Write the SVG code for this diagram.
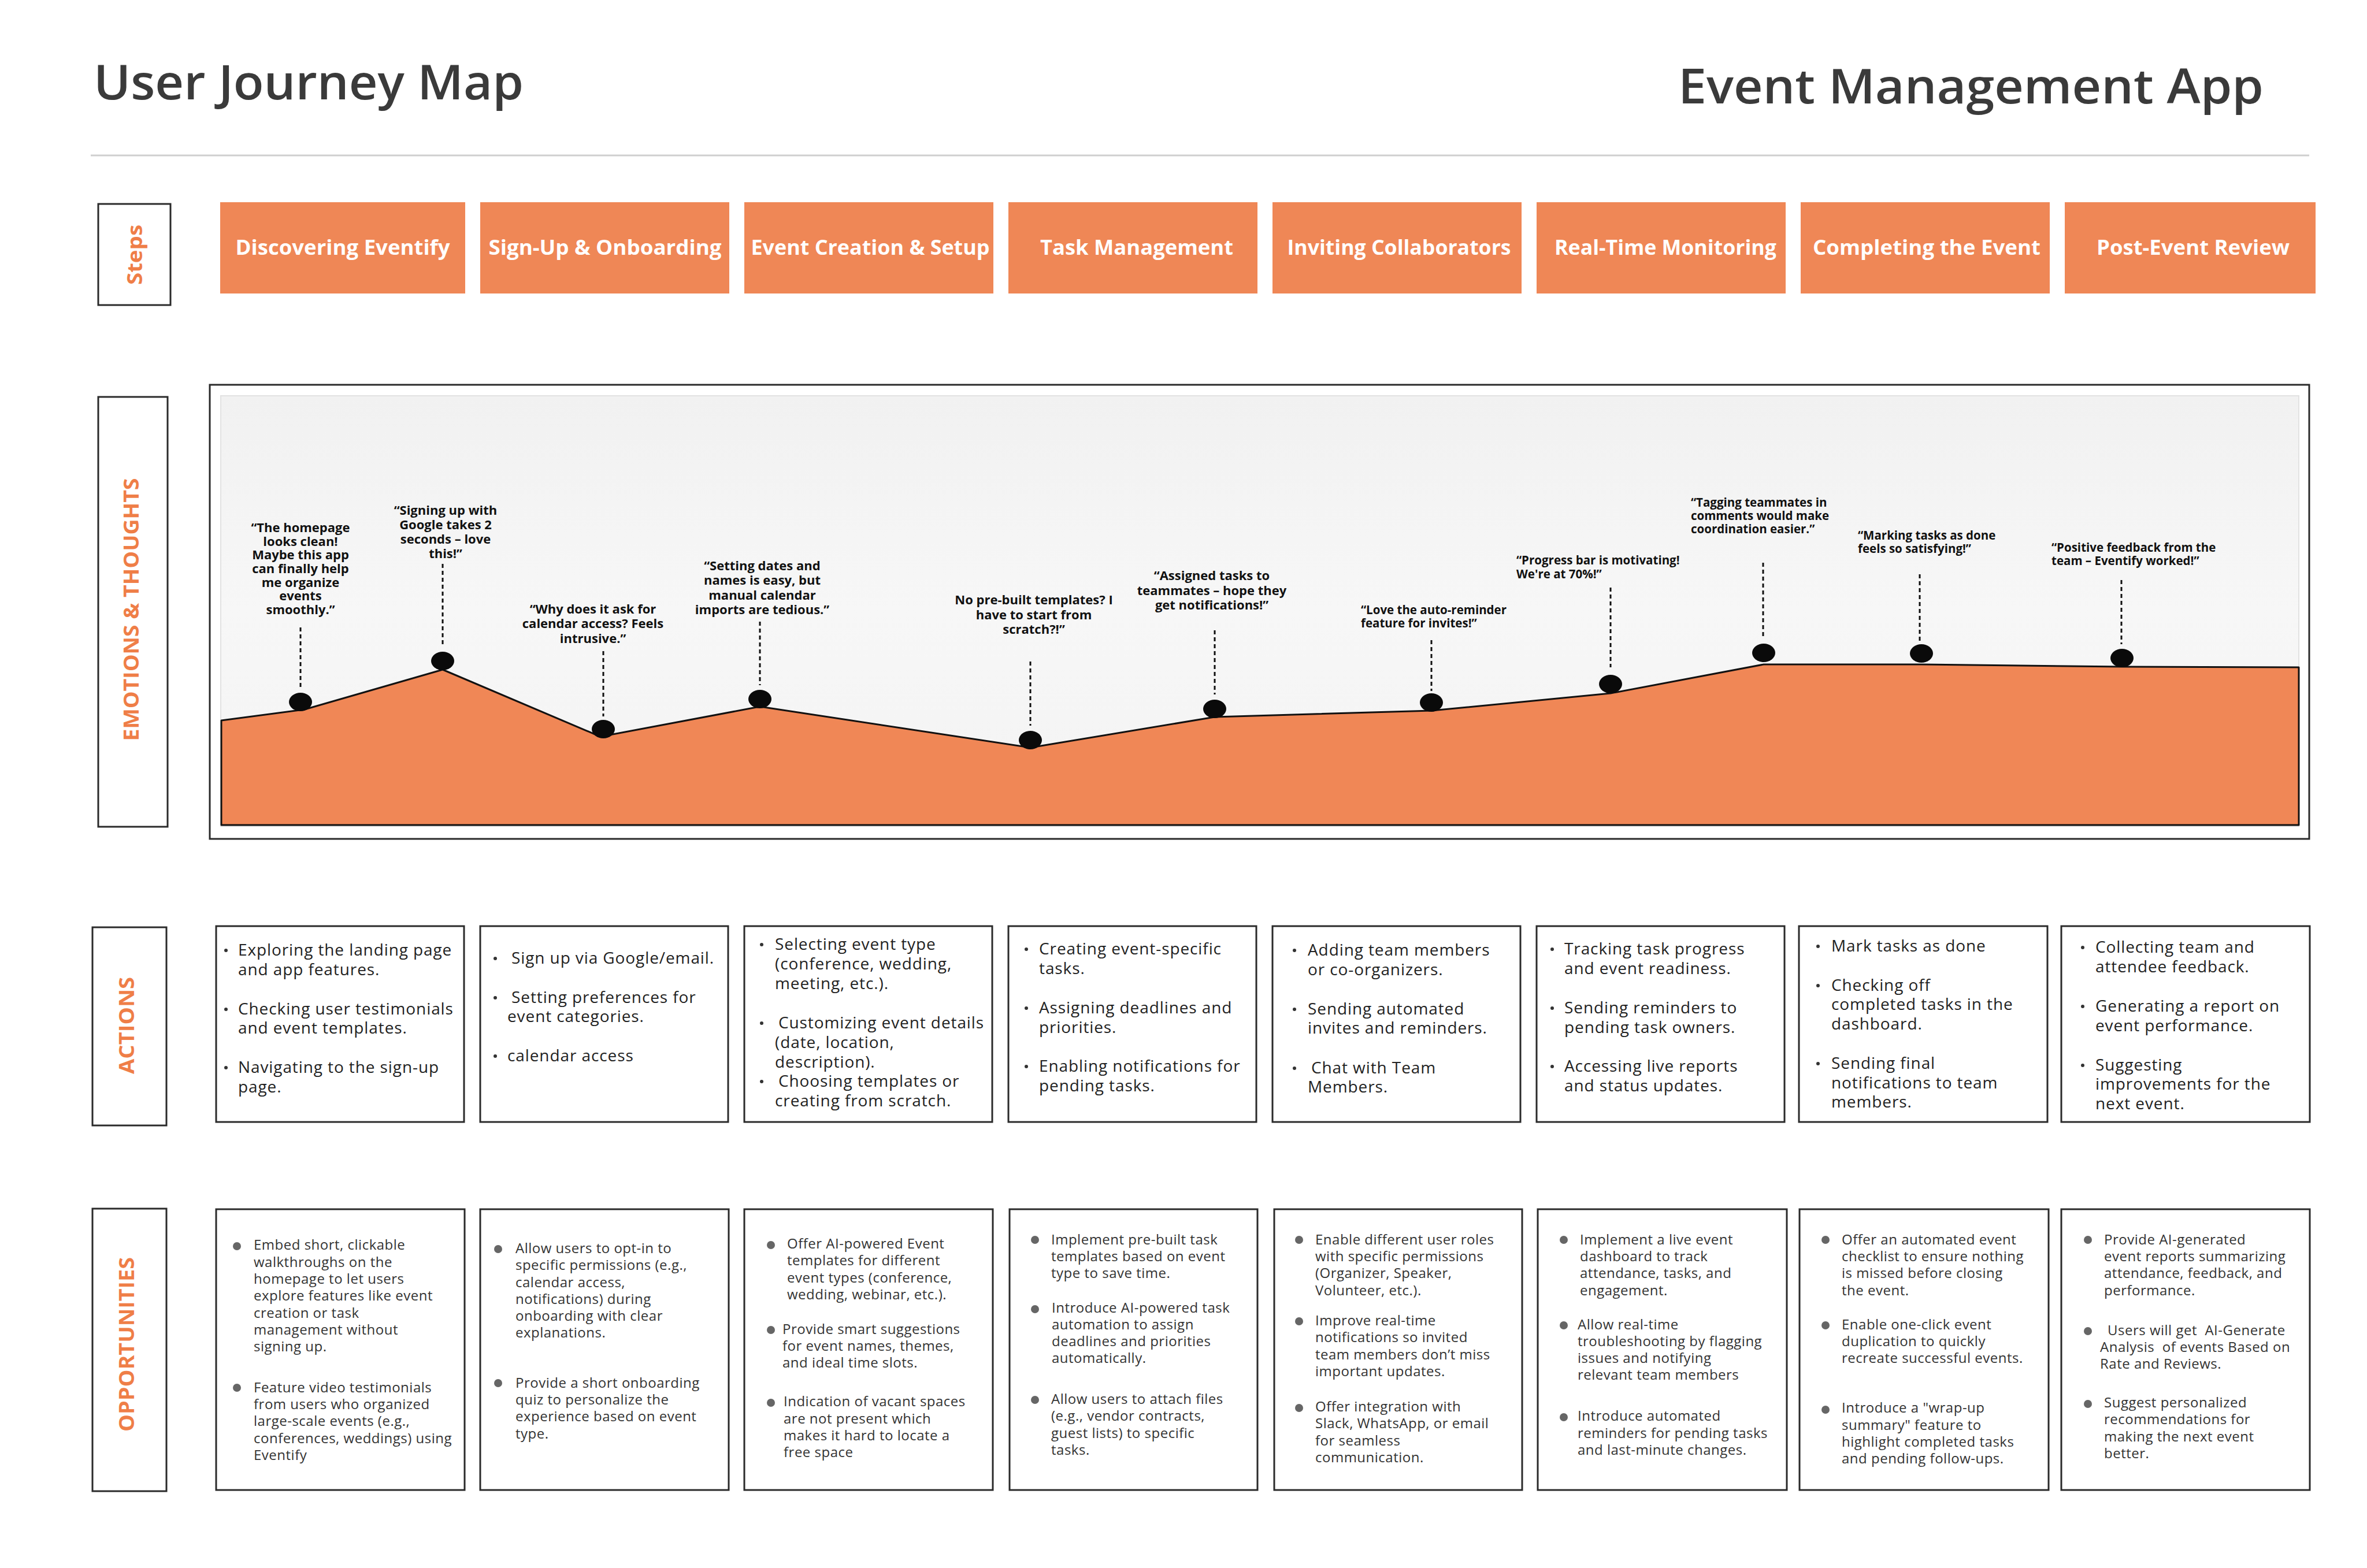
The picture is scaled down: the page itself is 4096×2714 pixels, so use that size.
<svg xmlns="http://www.w3.org/2000/svg" width="4096" height="2714" viewBox="0 0 4096 2714">
<defs>
<style>
.ttl{font-family:"Open Sans","Liberation Sans",sans-serif;font-weight:600;fill:#3a3a3a}
.lbl{font-family:"Open Sans","Liberation Sans",sans-serif;font-weight:700;fill:#EF7E47;text-anchor:middle;dominant-baseline:central}
.lblbox{fill:#fff;stroke:#2a2a2a;stroke-width:3}
.step{fill:#EF8756}
.stept{font-family:"Open Sans","Liberation Sans",sans-serif;font-weight:700;font-size:35px;fill:#fff;text-anchor:middle}
.q{font-family:"Open Sans","Liberation Sans",sans-serif;font-weight:700;fill:#111}
.qm{text-anchor:middle;font-size:22px}
.qs{text-anchor:start;font-size:20.5px}
.box{fill:#fff;stroke:#2a2a2a;stroke-width:3}
.act{font-family:"Open Sans","Liberation Sans",sans-serif;font-size:28px;letter-spacing:0.9px;fill:#222}
.opp{font-family:"Open Sans","Liberation Sans",sans-serif;font-size:24px;letter-spacing:0.5px;fill:#333}
.ab{fill:#333}
.ob{fill:#666}
.dash{stroke:#111;stroke-width:3;stroke-dasharray:7 5;fill:none}
.dot{fill:#0a0a0a}
</style>
<linearGradient id="panelGrad" x1="0" y1="0" x2="0" y2="1">
<stop offset="0" stop-color="#F1F1F1"/>
<stop offset="0.5" stop-color="#F7F7F7"/>
<stop offset="1" stop-color="#F3F3F3"/>
</linearGradient>
</defs>
<rect width="4096" height="2714" fill="#fff"/>

<g id="header">
<text class="ttl" x="162" y="172" font-size="84" textLength="744" lengthAdjust="spacingAndGlyphs">User Journey Map</text>
<text class="ttl" x="2904" y="179" font-size="84" textLength="1013" lengthAdjust="spacingAndGlyphs">Event Management App</text>
<line x1="157" y1="269" x2="3996" y2="269" stroke="#CFCFCF" stroke-width="3"/>
</g>

<g id="label-steps">
<rect class="lblbox" x="170" y="353" width="125" height="175"/>
<text class="lbl" x="232" y="441" font-size="36" font-weight="600" textLength="104" lengthAdjust="spacingAndGlyphs" transform="rotate(-90 232 441)">Steps</text>
</g>
<g id="label-emotions">
<rect class="lblbox" x="170" y="687" width="120" height="744"/>
<text class="lbl" x="226" y="1055" font-size="36" textLength="455" lengthAdjust="spacingAndGlyphs" transform="rotate(-90 226 1055)">EMOTIONS &amp; THOUGHTS</text>
</g>
<g id="label-actions">
<rect class="lblbox" x="160" y="1605" width="128" height="343"/>
<text class="lbl" x="218" y="1775" font-size="36" textLength="168" lengthAdjust="spacingAndGlyphs" transform="rotate(-90 218 1775)">ACTIONS</text>
</g>
<g id="label-opportunities">
<rect class="lblbox" x="160" y="2092" width="128" height="489"/>
<text class="lbl" x="218" y="2327" font-size="36" textLength="302" lengthAdjust="spacingAndGlyphs" transform="rotate(-90 218 2327)">OPPORTUNITIES</text>
</g>

<g id="steps">
<g id="step-1"><rect class="step" x="381" y="350" width="424" height="158"/><text class="stept" x="593" y="441" textLength="371" lengthAdjust="spacingAndGlyphs">Discovering Eventify</text></g>
<g id="step-2"><rect class="step" x="831" y="350" width="431" height="158"/><text class="stept" x="1047" y="441" textLength="403" lengthAdjust="spacingAndGlyphs">Sign-Up &amp; Onboarding</text></g>
<g id="step-3"><rect class="step" x="1288" y="350" width="431" height="158"/><text class="stept" x="1506" y="441" textLength="413" lengthAdjust="spacingAndGlyphs">Event Creation &amp; Setup</text></g>
<g id="step-4"><rect class="step" x="1745" y="350" width="431" height="158"/><text class="stept" x="1967" y="441" textLength="334" lengthAdjust="spacingAndGlyphs">Task Management</text></g>
<g id="step-5"><rect class="step" x="2202" y="350" width="431" height="158"/><text class="stept" x="2421" y="441" textLength="387" lengthAdjust="spacingAndGlyphs">Inviting Collaborators</text></g>
<g id="step-6"><rect class="step" x="2659" y="350" width="431" height="158"/><text class="stept" x="2882" y="441" textLength="384" lengthAdjust="spacingAndGlyphs">Real-Time Monitoring</text></g>
<g id="step-7"><rect class="step" x="3116" y="350" width="431" height="158"/><text class="stept" x="3334" y="441" textLength="394" lengthAdjust="spacingAndGlyphs">Completing the Event</text></g>
<g id="step-8"><rect class="step" x="3573" y="350" width="434" height="158"/><text class="stept" x="3795" y="441" textLength="334" lengthAdjust="spacingAndGlyphs">Post-Event Review</text></g>
</g>

<g id="emotion-chart">
<rect x="363" y="666" width="3633" height="786" fill="#fff" stroke="#2a2a2a" stroke-width="3"/>
<rect x="382" y="685" width="3596" height="745" fill="url(#panelGrad)" stroke="#E2E2E2" stroke-width="2"/>
<polygon points="383,1247 527,1228 766,1159 1039,1275 1315,1223 1783,1294 2102,1241 2477,1230 2787,1200 3052,1150 3325,1150 3672,1154 3978,1155 3978,1428 383,1428" fill="#F08756" stroke="#111" stroke-width="3" stroke-linejoin="round"/>
</g>

<g id="connectors">
<line class="dash" x1="520" y1="1086" x2="520" y2="1190"/>
<line class="dash" x1="766" y1="976" x2="766" y2="1116"/>
<line class="dash" x1="1044" y1="1127" x2="1044" y2="1240"/>
<line class="dash" x1="1315" y1="1076" x2="1315" y2="1186"/>
<line class="dash" x1="1783" y1="1145" x2="1783" y2="1256"/>
<line class="dash" x1="2102" y1="1091" x2="2102" y2="1202"/>
<line class="dash" x1="2477" y1="1108" x2="2477" y2="1196"/>
<line class="dash" x1="2787" y1="1017" x2="2787" y2="1155"/>
<line class="dash" x1="3051" y1="974" x2="3051" y2="1102"/>
<line class="dash" x1="3322" y1="994" x2="3322" y2="1110"/>
<line class="dash" x1="3671" y1="1004" x2="3671" y2="1115"/>
</g>

<g id="emotions">
<g id="emotion-1"><ellipse class="dot" cx="520" cy="1215" rx="20" ry="16"/>
<text class="q qm"><tspan x="520" y="921">“The homepage</tspan><tspan x="520" y="945">looks clean!</tspan><tspan x="520" y="968">Maybe this app</tspan><tspan x="520" y="992">can finally help</tspan><tspan x="520" y="1016">me organize</tspan><tspan x="520" y="1039">events</tspan><tspan x="520" y="1063">smoothly.”</tspan></text></g>
<g id="emotion-2"><ellipse class="dot" cx="766" cy="1144" rx="20" ry="16"/>
<text class="q qm"><tspan x="771" y="891">“Signing up with</tspan><tspan x="771" y="916">Google takes 2</tspan><tspan x="771" y="941">seconds – love</tspan><tspan x="771" y="966">this!”</tspan></text></g>
<g id="emotion-3"><ellipse class="dot" cx="1044" cy="1262" rx="20" ry="16"/>
<text class="q qm"><tspan x="1026" y="1062">“Why does it ask for</tspan><tspan x="1026" y="1087">calendar access? Feels</tspan><tspan x="1026" y="1113">intrusive.”</tspan></text></g>
<g id="emotion-4"><ellipse class="dot" cx="1315" cy="1210" rx="20" ry="16"/>
<text class="q qm"><tspan x="1319" y="987">“Setting dates and</tspan><tspan x="1319" y="1012">names is easy, but</tspan><tspan x="1319" y="1038">manual calendar</tspan><tspan x="1319" y="1063">imports are tedious.”</tspan></text></g>
<g id="emotion-5"><ellipse class="dot" cx="1783" cy="1281" rx="20" ry="16"/>
<text class="q qm"><tspan x="1789" y="1046">No pre-built templates? I</tspan><tspan x="1789" y="1072">have to start from</tspan><tspan x="1789" y="1097">scratch?!”</tspan></text></g>
<g id="emotion-6"><ellipse class="dot" cx="2102" cy="1227" rx="20" ry="16"/>
<text class="q qm"><tspan x="2097" y="1004">“Assigned tasks to</tspan><tspan x="2097" y="1030">teammates – hope they</tspan><tspan x="2097" y="1055">get notifications!”</tspan></text></g>
<g id="emotion-7"><ellipse class="dot" cx="2477" cy="1216" rx="20" ry="16"/>
<text class="q qs"><tspan x="2355" y="1063">“Love the auto-reminder</tspan><tspan x="2355" y="1086">feature for invites!”</tspan></text></g>
<g id="emotion-8"><ellipse class="dot" cx="2787" cy="1184" rx="20" ry="16"/>
<text class="q qs"><tspan x="2624" y="977">“Progress bar is motivating!</tspan><tspan x="2624" y="1001">We're at 70%!”</tspan></text></g>
<g id="emotion-9"><ellipse class="dot" cx="3052" cy="1130" rx="20" ry="16"/>
<text class="q qs"><tspan x="2926" y="877">“Tagging teammates in</tspan><tspan x="2926" y="900">comments would make</tspan><tspan x="2926" y="923">coordination easier.”</tspan></text></g>
<g id="emotion-10"><ellipse class="dot" cx="3325" cy="1131" rx="20" ry="16"/>
<text class="q qs"><tspan x="3215" y="934">“Marking tasks as done</tspan><tspan x="3215" y="957">feels so satisfying!”</tspan></text></g>
<g id="emotion-11"><ellipse class="dot" cx="3672" cy="1139" rx="20" ry="16"/>
<text class="q qs"><tspan x="3550" y="955">“Positive feedback from the</tspan><tspan x="3550" y="978">team – Eventify worked!”</tspan></text></g>
</g>

<g id="actions">
<g id="action-1"><rect class="box" x="374" y="1603" width="429" height="339"/>
<circle class="ab" cx="391" cy="1645" r="3"/><circle class="ab" cx="391" cy="1747" r="3"/><circle class="ab" cx="391" cy="1848" r="3"/>
<text class="act"><tspan x="412" y="1654">Exploring the landing page</tspan><tspan x="412" y="1688">and app features.</tspan><tspan x="412" y="1756">Checking user testimonials</tspan><tspan x="412" y="1789">and event templates.</tspan><tspan x="412" y="1857">Navigating to the sign-up</tspan><tspan x="412" y="1891">page.</tspan></text></g>
<g id="action-2"><rect class="box" x="831" y="1603" width="429" height="339"/>
<circle class="ab" cx="857" cy="1659" r="3"/><circle class="ab" cx="857" cy="1727" r="3"/><circle class="ab" cx="857" cy="1828" r="3"/>
<text class="act"><tspan x="885" y="1668">Sign up via Google/email.</tspan><tspan x="885" y="1736">Setting preferences for</tspan><tspan x="878" y="1769">event categories.</tspan><tspan x="878" y="1837">calendar access</tspan></text></g>
<g id="action-3"><rect class="box" x="1288" y="1603" width="429" height="339"/>
<circle class="ab" cx="1318" cy="1635" r="3"/><circle class="ab" cx="1318" cy="1771" r="3"/><circle class="ab" cx="1318" cy="1872" r="3"/>
<text class="act"><tspan x="1341" y="1644">Selecting event type</tspan><tspan x="1341" y="1678">(conference, wedding,</tspan><tspan x="1341" y="1712">meeting, etc.).</tspan><tspan x="1347" y="1780">Customizing event details</tspan><tspan x="1341" y="1814">(date, location,</tspan><tspan x="1341" y="1848">description).</tspan><tspan x="1347" y="1881">Choosing templates or</tspan><tspan x="1341" y="1915">creating from scratch.</tspan></text></g>
<g id="action-4"><rect class="box" x="1745" y="1603" width="429" height="339"/>
<circle class="ab" cx="1776" cy="1643" r="3"/><circle class="ab" cx="1776" cy="1745" r="3"/><circle class="ab" cx="1776" cy="1846" r="3"/>
<text class="act"><tspan x="1798" y="1652">Creating event-specific</tspan><tspan x="1798" y="1686">tasks.</tspan><tspan x="1798" y="1754">Assigning deadlines and</tspan><tspan x="1798" y="1788">priorities.</tspan><tspan x="1798" y="1855">Enabling notifications for</tspan><tspan x="1798" y="1889">pending tasks.</tspan></text></g>
<g id="action-5"><rect class="box" x="2202" y="1603" width="429" height="339"/>
<circle class="ab" cx="2240" cy="1645" r="3"/><circle class="ab" cx="2240" cy="1747" r="3"/><circle class="ab" cx="2240" cy="1849" r="3"/>
<text class="act"><tspan x="2263" y="1654">Adding team members</tspan><tspan x="2263" y="1688">or co-organizers.</tspan><tspan x="2263" y="1756">Sending automated</tspan><tspan x="2263" y="1789">invites and reminders.</tspan><tspan x="2269" y="1858">Chat with Team</tspan><tspan x="2263" y="1891">Members.</tspan></text></g>
<g id="action-6"><rect class="box" x="2659" y="1603" width="429" height="339"/>
<circle class="ab" cx="2686" cy="1643" r="3"/><circle class="ab" cx="2686" cy="1745" r="3"/><circle class="ab" cx="2686" cy="1846" r="3"/>
<text class="act"><tspan x="2707" y="1652">Tracking task progress</tspan><tspan x="2707" y="1686">and event readiness.</tspan><tspan x="2707" y="1754">Sending reminders to</tspan><tspan x="2707" y="1788">pending task owners.</tspan><tspan x="2707" y="1855">Accessing live reports</tspan><tspan x="2707" y="1889">and status updates.</tspan></text></g>
<g id="action-7"><rect class="box" x="3113" y="1603" width="430" height="339"/>
<circle class="ab" cx="3146" cy="1638" r="3"/><circle class="ab" cx="3146" cy="1706" r="3"/><circle class="ab" cx="3146" cy="1841" r="3"/>
<text class="act"><tspan x="3169" y="1647">Mark tasks as done</tspan><tspan x="3169" y="1715">Checking off</tspan><tspan x="3169" y="1748">completed tasks in the</tspan><tspan x="3169" y="1782">dashboard.</tspan><tspan x="3169" y="1850">Sending final</tspan><tspan x="3169" y="1884">notifications to team</tspan><tspan x="3169" y="1917">members.</tspan></text></g>
<g id="action-8"><rect class="box" x="3567" y="1603" width="430" height="339"/>
<circle class="ab" cx="3604" cy="1640" r="3"/><circle class="ab" cx="3604" cy="1742" r="3"/><circle class="ab" cx="3604" cy="1844" r="3"/>
<text class="act"><tspan x="3626" y="1649">Collecting team and</tspan><tspan x="3626" y="1683">attendee feedback.</tspan><tspan x="3626" y="1751">Generating a report on</tspan><tspan x="3626" y="1785">event performance.</tspan><tspan x="3626" y="1853">Suggesting</tspan><tspan x="3626" y="1886">improvements for the</tspan><tspan x="3626" y="1920">next event.</tspan></text></g>
</g>

<g id="opportunities">
<g id="opp-1"><rect class="box" x="374" y="2093" width="430" height="486"/>
<circle class="ob" cx="410" cy="2157" r="7"/><circle class="ob" cx="410" cy="2402" r="7"/>
<text class="opp"><tspan x="439" y="2163">Embed short, clickable</tspan><tspan x="439" y="2193">walkthroughs on the</tspan><tspan x="439" y="2222">homepage to let users</tspan><tspan x="439" y="2251">explore features like event</tspan><tspan x="439" y="2281">creation or task</tspan><tspan x="439" y="2310">management without</tspan><tspan x="439" y="2339">signing up.</tspan><tspan x="439" y="2410">Feature video testimonials</tspan><tspan x="439" y="2439">from users who organized</tspan><tspan x="439" y="2468">large-scale events (e.g.,</tspan><tspan x="439" y="2498">conferences, weddings) using</tspan><tspan x="439" y="2527">Eventify</tspan></text></g>
<g id="opp-2"><rect class="box" x="831" y="2093" width="430" height="486"/>
<circle class="ob" cx="862" cy="2162" r="7"/><circle class="ob" cx="862" cy="2394" r="7"/>
<text class="opp"><tspan x="892" y="2169">Allow users to opt-in to</tspan><tspan x="892" y="2198">specific permissions (e.g.,</tspan><tspan x="892" y="2228">calendar access,</tspan><tspan x="892" y="2257">notifications) during</tspan><tspan x="892" y="2286">onboarding with clear</tspan><tspan x="892" y="2315">explanations.</tspan><tspan x="892" y="2402">Provide a short onboarding</tspan><tspan x="892" y="2431">quiz to personalize the</tspan><tspan x="892" y="2460">experience based on event</tspan><tspan x="892" y="2490">type.</tspan></text></g>
<g id="opp-3"><rect class="box" x="1288" y="2093" width="430" height="486"/>
<circle class="ob" cx="1334" cy="2155" r="7"/><circle class="ob" cx="1334" cy="2302" r="7"/><circle class="ob" cx="1334" cy="2428" r="7"/>
<text class="opp"><tspan x="1362" y="2161">Offer AI-powered Event</tspan><tspan x="1362" y="2190">templates for different</tspan><tspan x="1362" y="2220">event types (conference,</tspan><tspan x="1362" y="2249">wedding, webinar, etc.).</tspan><tspan x="1354" y="2309">Provide smart suggestions</tspan><tspan x="1354" y="2338">for event names, themes,</tspan><tspan x="1354" y="2367">and ideal time slots.</tspan><tspan x="1356" y="2434">Indication of vacant spaces</tspan><tspan x="1356" y="2464">are not present which</tspan><tspan x="1356" y="2493">makes it hard to locate a</tspan><tspan x="1356" y="2522">free space</tspan></text></g>
<g id="opp-4"><rect class="box" x="1747" y="2093" width="429" height="486"/>
<circle class="ob" cx="1791" cy="2146" r="7"/><circle class="ob" cx="1791" cy="2266" r="7"/><circle class="ob" cx="1791" cy="2423" r="7"/>
<text class="opp"><tspan x="1819" y="2154">Implement pre-built task</tspan><tspan x="1819" y="2183">templates based on event</tspan><tspan x="1819" y="2212">type to save time.</tspan><tspan x="1820" y="2272">Introduce AI-powered task</tspan><tspan x="1820" y="2301">automation to assign</tspan><tspan x="1820" y="2330">deadlines and priorities</tspan><tspan x="1820" y="2359">automatically.</tspan><tspan x="1819" y="2430">Allow users to attach files</tspan><tspan x="1819" y="2459">(e.g., vendor contracts,</tspan><tspan x="1819" y="2489">guest lists) to specific</tspan><tspan x="1819" y="2518">tasks.</tspan></text></g>
<g id="opp-5"><rect class="box" x="2205" y="2093" width="429" height="486"/>
<circle class="ob" cx="2248" cy="2146" r="7"/><circle class="ob" cx="2248" cy="2287" r="7"/><circle class="ob" cx="2248" cy="2437" r="7"/>
<text class="opp"><tspan x="2276" y="2154">Enable different user roles</tspan><tspan x="2276" y="2183">with specific permissions</tspan><tspan x="2276" y="2212">(Organizer, Speaker,</tspan><tspan x="2276" y="2242">Volunteer, etc.).</tspan><tspan x="2276" y="2294">Improve real-time</tspan><tspan x="2276" y="2323">notifications so invited</tspan><tspan x="2276" y="2353">team members don’t miss</tspan><tspan x="2276" y="2382">important updates.</tspan><tspan x="2276" y="2443">Offer integration with</tspan><tspan x="2276" y="2472">Slack, WhatsApp, or email</tspan><tspan x="2276" y="2502">for seamless</tspan><tspan x="2276" y="2531">communication.</tspan></text></g>
<g id="opp-6"><rect class="box" x="2661" y="2093" width="431" height="486"/>
<circle class="ob" cx="2706" cy="2146" r="7"/><circle class="ob" cx="2706" cy="2294" r="7"/><circle class="ob" cx="2706" cy="2453" r="7"/>
<text class="opp"><tspan x="2734" y="2154">Implement a live event</tspan><tspan x="2734" y="2183">dashboard to track</tspan><tspan x="2734" y="2212">attendance, tasks, and</tspan><tspan x="2734" y="2242">engagement.</tspan><tspan x="2730" y="2301">Allow real-time</tspan><tspan x="2730" y="2330">troubleshooting by flagging</tspan><tspan x="2730" y="2359">issues and notifying</tspan><tspan x="2730" y="2388">relevant team members</tspan><tspan x="2730" y="2459">Introduce automated</tspan><tspan x="2730" y="2489">reminders for pending tasks</tspan><tspan x="2730" y="2518">and last-minute changes.</tspan></text></g>
<g id="opp-7"><rect class="box" x="3114" y="2093" width="431" height="486"/>
<circle class="ob" cx="3159" cy="2146" r="7"/><circle class="ob" cx="3159" cy="2294" r="7"/><circle class="ob" cx="3159" cy="2440" r="7"/>
<text class="opp"><tspan x="3187" y="2154">Offer an automated event</tspan><tspan x="3187" y="2183">checklist to ensure nothing</tspan><tspan x="3187" y="2212">is missed before closing</tspan><tspan x="3187" y="2242">the event.</tspan><tspan x="3187" y="2301">Enable one-click event</tspan><tspan x="3187" y="2330">duplication to quickly</tspan><tspan x="3187" y="2359">recreate successful events.</tspan><tspan x="3187" y="2445">Introduce a "wrap-up</tspan><tspan x="3187" y="2475">summary" feature to</tspan><tspan x="3187" y="2504">highlight completed tasks</tspan><tspan x="3187" y="2533">and pending follow-ups.</tspan></text></g>
<g id="opp-8"><rect class="box" x="3567" y="2093" width="430" height="486"/>
<circle class="ob" cx="3613" cy="2146" r="7"/><circle class="ob" cx="3613" cy="2304" r="7"/><circle class="ob" cx="3613" cy="2430" r="7"/>
<text class="opp"><tspan x="3641" y="2154">Provide AI-generated</tspan><tspan x="3641" y="2183">event reports summarizing</tspan><tspan x="3641" y="2212">attendance, feedback, and</tspan><tspan x="3641" y="2242">performance.</tspan><tspan x="3647" y="2311" xml:space="preserve">Users will get  AI-Generate</tspan><tspan x="3634" y="2340" xml:space="preserve">Analysis  of events Based on</tspan><tspan x="3634" y="2369">Rate and Reviews.</tspan><tspan x="3641" y="2436">Suggest personalized</tspan><tspan x="3641" y="2465">recommendations for</tspan><tspan x="3641" y="2495">making the next event</tspan><tspan x="3641" y="2524">better.</tspan></text></g>
</g>
</svg>
